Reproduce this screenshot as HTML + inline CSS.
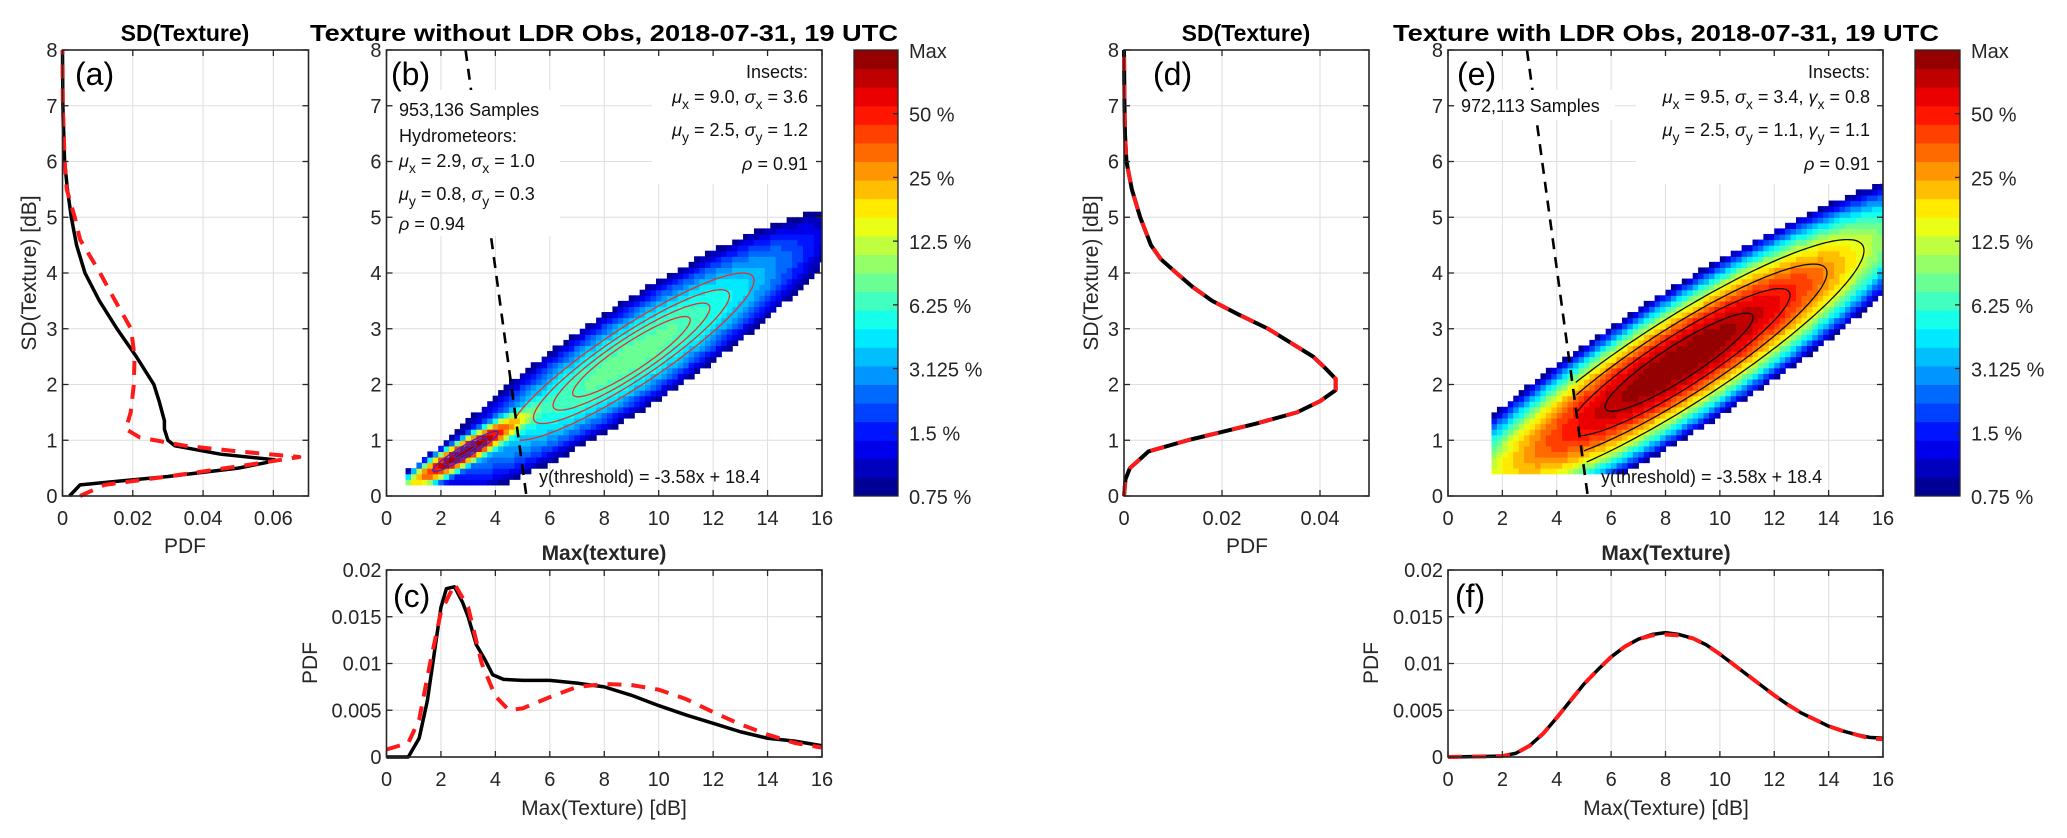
<!DOCTYPE html>
<html><head><meta charset="utf-8"><style>
html,body{margin:0;padding:0;background:#fff;}
svg{display:block;font-family:"Liberation Sans",Arial,sans-serif;}
.tk{font-size:20px;fill:#262626;}
.an{font-size:18px;fill:#111;}
.ttl{font-size:23px;font-weight:bold;fill:#000;}
.lab{font-size:21px;fill:#262626;}
.pl{font-size:32px;fill:#000;}
</style></head><body>
<svg id="fig" width="2067" height="838" viewBox="0 0 2067 838" xmlns="http://www.w3.org/2000/svg">
<defs>
<clipPath id="clip-b"><rect x="386.5" y="50" width="435.5" height="446"/></clipPath>
<clipPath id="clip-e"><rect x="1448" y="50" width="435" height="446"/></clipPath>
</defs>
<g id="layer"></g>
<text class="ttl" x="185" y="41" text-anchor="middle">SD(Texture)</text>
<text class="ttl" x="604" y="41" text-anchor="middle" textLength="588" lengthAdjust="spacingAndGlyphs">Texture without LDR Obs, 2018-07-31, 19 UTC</text>
<text class="ttl" x="1246" y="41" text-anchor="middle">SD(Texture)</text>
<text class="ttl" x="1666" y="41" text-anchor="middle" textLength="546" lengthAdjust="spacingAndGlyphs">Texture with LDR Obs, 2018-07-31, 19 UTC</text>
</svg>
<script>
// ---------- data ----------
const sdLevels=[0,0.2,0.35,0.5,0.6,0.65,0.75,0.9,1.0,1.2,1.35,1.7,2.0,2.5,3.0,3.5,4.0,4.5,5.0,5.5,6.0,7.0,8.0];
const aObs=[0.002,0.005,0.03,0.05,0.058,0.0603,0.045,0.032,0.030,0.029,0.029,0.0275,0.026,0.021,0.0155,0.0105,0.0064,0.004,0.0025,0.0014,0.0006,0.0001,0];
const aFitY=[0,0.2,0.35,0.55,0.7,0.8,0.9,1.05,1.2,1.5,2.0,2.5,3.0,3.5,4.0,4.6,5.0,5.5,6.0,7.0,8.0];
const aFit=[0.005,0.012,0.03,0.052,0.0674,0.05,0.035,0.022,0.018,0.0194,0.0203,0.0205,0.0195,0.015,0.0107,0.005,0.0035,0.0012,0.0006,0.0001,0];
const maxTex=[0,0.8,1.2,1.5,1.8,2.0,2.2,2.5,2.8,3.0,3.3,3.6,3.9,4.3,5,6,7,8,9,10,11,12,13,14,15,16];
const cObs=[0,0,0.002,0.006,0.012,0.016,0.018,0.0182,0.0165,0.015,0.012,0.0105,0.0088,0.0083,0.0082,0.0082,0.0079,0.0075,0.0066,0.0055,0.0045,0.0036,0.0027,0.002,0.0017,0.0012];
const cFitX=[0,0.8,1.2,1.6,2.0,2.5,3.0,3.5,4.0,4.5,5,6,7,8,9,10,11,12,13,14,15,16];
const cFit=[0.0008,0.0015,0.004,0.01,0.0155,0.0185,0.016,0.01,0.0065,0.005,0.0052,0.0064,0.0075,0.0078,0.0077,0.0072,0.0062,0.0048,0.0035,0.0024,0.0015,0.001];
const dY=[0,0.3,0.5,0.6,0.8,1.0,1.15,1.3,1.5,1.7,1.9,2.1,2.3,2.5,2.75,3.0,3.25,3.5,3.75,4.0,4.25,4.5,5.0,5.5,6.0,6.5,7.0,8.0];
const dObs=[0,0.0003,0.0012,0.0025,0.005,0.013,0.02,0.027,0.0353,0.04,0.0432,0.0432,0.041,0.0386,0.034,0.0294,0.0235,0.018,0.014,0.0107,0.0075,0.0055,0.0033,0.0016,0.0005,0.0002,0.0001,0];
const dFit=[0,0.0003,0.0012,0.0025,0.005,0.013,0.02,0.027,0.0353,0.04,0.0432,0.0432,0.041,0.0386,0.034,0.0294,0.0235,0.018,0.014,0.0107,0.0075,0.0055,0.0033,0.0016,0.0005,0.0002,0.0001,0];
const fX=[0,2,2.5,3,3.5,4,4.5,5,5.5,6,6.5,7,7.5,8,8.5,9,9.5,10,10.5,11,11.5,12,12.5,13,13.5,14,14.5,15,15.5,16];
const fObs=[0,0.0001,0.0004,0.0012,0.0025,0.0042,0.006,0.0078,0.0093,0.0107,0.0118,0.0126,0.0131,0.0133,0.0131,0.0127,0.012,0.011,0.0099,0.0088,0.0077,0.0066,0.0056,0.0047,0.004,0.0033,0.0028,0.0024,0.0021,0.002];
const fFit=[0,0.0001,0.0004,0.0012,0.0025,0.0042,0.006,0.0078,0.0093,0.0107,0.0118,0.0126,0.013,0.0131,0.013,0.0127,0.012,0.011,0.0099,0.0088,0.0077,0.0066,0.0056,0.0047,0.004,0.0033,0.0028,0.0024,0.002,0.0019];
// bivariate components (from annotations): mux, muy, sx, sy, rho, amplitude
const bMux=[2.9,9.0], bMuy=[0.8,2.5], bSx=[1.0,3.6], bSy=[0.3,1.2], bRho=[0.94,0.91], bAmp=[1,0.08];
const eMux=[8.5], eMuy=[2.4], eSx=[3.4], eSy=[1.1], eRho=[0.91], eAmp=[1];
const threshold=[-3.58,18.4];
const cbLabels=['Max','50 %','25 %','12.5 %','6.25 %','3.125 %','1.5 %','0.75 %'];
const bContR=[0.6,0.8,1.0,1.25], hContR=[0.4,0.8,1.2], eContR=[0.8,1.2,1.6,2.0];
const sdTicks=[0,1,2,3,4,5,6,7,8], texTicks=[0,2,4,6,8,10,12,14,16];
const pdfTicksA=[0,0.02,0.04,0.06], pdfTicksD=[0,0.02,0.04], pdfTicksC=[0,0.005,0.01,0.015,0.02];
const pdfLabA=['0','0.02','0.04','0.06'], pdfLabD=['0','0.02','0.04'], pdfLabC=['0','0.005','0.01','0.015','0.02'];

// ---------- helpers ----------
const NS='http://www.w3.org/2000/svg';
const layer=document.getElementById('layer');
function mk(tag,attrs,parent){const e=document.createElementNS(NS,tag);for(const k in attrs)e.setAttribute(k,attrs[k]);(parent||layer).appendChild(e);return e;}
function scale(d0,d1,p0,p1){return v=>p0+(v-d0)/(d1-d0)*(p1-p0);}
function jet(t){const c=v=>Math.round(255*Math.max(0,Math.min(1,v)));return 'rgb('+c(1.5-Math.abs(4*t-3))+','+c(1.5-Math.abs(4*t-2))+','+c(1.5-Math.abs(4*t-1))+')';}

function panel(name,px0,px1,py0,py1,xmin,xmax,ymin,ymax,xt,xl,yt,yl){
  const sx=scale(xmin,xmax,px0,px1), sy=scale(ymin,ymax,py0,py1);
  const g=mk('g',{});
  
  
  xt.forEach(v=>{mk('line',{x1:sx(v),x2:sx(v),y1:py0,y2:py1,stroke:'#dedede','stroke-width':1},g);});
  yt.forEach(v=>{mk('line',{x1:px0,x2:px1,y1:sy(v),y2:sy(v),stroke:'#dedede','stroke-width':1},g);});
  return {sx,sy,px0,px1,py0,py1,xt,xl,yt,yl,name};
}
function frame(p){
  const g=mk('g',{});
  
  
  p.xt.forEach((v,i)=>{
    mk('line',{x1:p.sx(v),x2:p.sx(v),y1:p.py0,y2:p.py0-6,stroke:'#262626','stroke-width':1.3},g);
    mk('line',{x1:p.sx(v),x2:p.sx(v),y1:p.py1,y2:p.py1+6,stroke:'#262626','stroke-width':1.3},g);
    const t=mk('text',{x:p.sx(v),y:p.py0+29,'text-anchor':'middle','class':'tk'},g);
    
    
    t.textContent=p.xl[i];
  });
  p.yt.forEach((v,i)=>{
    mk('line',{x1:p.px0,x2:p.px0+6,y1:p.sy(v),y2:p.sy(v),stroke:'#262626','stroke-width':1.3},g);
    mk('line',{x1:p.px1,x2:p.px1-6,y1:p.sy(v),y2:p.sy(v),stroke:'#262626','stroke-width':1.3},g);
    const t=mk('text',{x:p.px0-5,y:p.sy(v)+7,'text-anchor':'end','class':'tk'},g);
    
    
    t.textContent=p.yl[i];
  });
  mk('rect',{x:p.px0,y:p.py1,width:p.px1-p.px0,height:p.py0-p.py1,fill:'none',stroke:'#262626','stroke-width':1.6},g);
}
function curve(p,xs,ys,color,dash,w,nm,swap){
  const pts=xs.map((x,i)=>swap?(p.sx(ys[i])+','+p.sy(x)):(p.sx(x)+','+p.sy(ys[i]))).join(' ');
  const l=mk('polyline',{points:pts,fill:'none',stroke:color,'stroke-width':w,'stroke-linejoin':'round'});
  if(dash)l.setAttribute('stroke-dasharray',dash);
  
  
}
function txt(x,y,s,cls,anchor,nm,extra){
  const t=mk('text',Object.assign({x:x,y:y,'class':cls,'text-anchor':anchor||'start'},extra||{}));
  
  
  t.innerHTML=s;return t;
}
function density(x,y,mx,my,sx,sy,rh,am){
  let d=0;for(let k=0;k<mx.length;k++){const u=(x-mx[k])/sx[k],v=(y-my[k])/sy[k];
    d+=am[k]*Math.exp(-0.5*(u*u+v*v-2*rh[k]*u*v)/(1-rh[k]*rh[k]));}return d;}
function heatmap(p,mx,my,sx,sy,rh,am,xlo,ylo,nm,clip){
  const g=mk('g',{'clip-path':'url(#'+clip+')'});
  
  
  let mxd=0;
  for(let x=xlo;x<16;x+=0.2)for(let y=ylo;y<8;y+=0.1){mxd=Math.max(mxd,density(x+0.1,y+0.05,mx,my,sx,sy,rh,am));}
  for(let x=xlo;x<16;x+=0.2)for(let y=ylo;y<8;y+=0.1){
    const r=density(x+0.1,y+0.05,mx,my,sx,sy,rh,am)/mxd;
    if(r<1/128)continue;
    let t=1+Math.log2(r)/7;let q=Math.min(23,Math.floor(t*24));
    const c=mk('rect',{x:p.sx(x),y:p.sy(y+0.1),width:p.sx(0.2)-p.sx(0)+0.6,height:p.sy(0)-p.sy(0.1)+0.6,fill:jet((q+0.5)/24)},g);
    
    
  }
}
function ellipse(p,mx,my,sx,sy,rh,r,color,nm,clip,cut){
  const pts=[];
  for(let i=0;i<=180;i++){const a=i/180*2*Math.PI;
    const x=mx+r*sx*Math.cos(a), y=my+r*sy*(rh*Math.cos(a)+Math.sqrt(1-rh*rh)*Math.sin(a));
    if(cut && x<(y-threshold[1])/threshold[0]){pts.push(null);continue;}
    pts.push([p.sx(x),p.sy(y)]);}
  let d='',pen=false;
  pts.forEach(q=>{if(!q){pen=false;return;}d+=(pen?'L':'M')+q[0].toFixed(1)+','+q[1].toFixed(1);pen=true;});
  const e=mk('path',{d:d,fill:'none',stroke:color,'stroke-width':1.3,'clip-path':'url(#'+clip+')'});
  
  
}
function threshLine(p,nm,clip){
  const l=mk('line',{x1:p.sx((8-threshold[1])/threshold[0]),y1:p.sy(8),x2:p.sx((0-threshold[1])/threshold[0]),y2:p.sy(0),stroke:'#000','stroke-width':2.6,'stroke-dasharray':'11,8','clip-path':'url(#'+clip+')'});
  
  
}
function whiteBox(x,y,w,h,nm){const r=mk('rect',{x:x,y:y,width:w,height:h,fill:'#fff'});
  
  }
function colorbar(x0,x1,y0,y1,nm){
  const g=mk('g',{});
  
  
  const h=(y1-y0)/24;
  for(let i=0;i<24;i++){const r=mk('rect',{x:x0,y:y1-(i+1)*h,width:x1-x0,height:h+0.5,fill:jet((i+0.5)/24)},g);
    
    }
  mk('rect',{x:x0,y:y0,width:x1-x0,height:y1-y0,fill:'none',stroke:'#262626','stroke-width':1.3},g);
  cbLabels.forEach((s,i)=>{const y=y0+i*(y1-y0)/7;
    if(i>0&&i<7)mk('line',{x1:x1-5,x2:x1,y1:y,y2:y,stroke:'#262626','stroke-width':1.3},g);
    const t=mk('text',{x:x1+11,y:y+8,'class':'tk'},g);
    
    
    t.textContent=s;});
}
const sdL=sdTicks.map(String), texL=texTicks.map(String);

// ---------- panel a ----------
const A=panel('panel-a',62.5,308.5,496,50,0,0.07,0,8,pdfTicksA,pdfLabA,sdTicks,sdL);
curve(A,sdLevels,aObs,'#000',null,3.5,'a-observed-pdf',true);
curve(A,aFitY,aFit,'#ff1a1a','14,10',4,'a-fitted-pdf',true);
frame(A);
// ---------- panel b ----------
const B=panel('panel-b',386.5,822,496,50,0,16,0,8,texTicks,texL,sdTicks,sdL);
heatmap(B,bMux,bMuy,bSx,bSy,bRho,bAmp,0.7,0.2,'b-heatmap','clip-b');
bContR.forEach(r=>ellipse(B,bMux[1],bMuy[1],bSx[1],bSy[1],bRho[1],r,'#e8302a','b-insect-contour','clip-b',true));
hContR.forEach(r=>ellipse(B,bMux[0],bMuy[0],bSx[0],bSy[0],bRho[0],r,'#3a2ad0','b-hydro-contour','clip-b',false));
threshLine(B,'b-threshold-line','clip-b');
whiteBox(392,90,168,146,'b-left-textbox');
whiteBox(652,52,168,132,'b-right-textbox');
frame(B);
colorbar(854,898,50,496,'colorbar-b');
// ---------- panel c ----------
const C=panel('panel-c',386.5,822,757,570,0,16,0,0.02,texTicks,texL,pdfTicksC,pdfLabC);
curve(C,maxTex,cObs,'#000',null,3.5,'c-observed-pdf',false);
curve(C,cFitX,cFit,'#ff1a1a','14,10',4,'c-fitted-pdf',false);
frame(C);
// ---------- panel d ----------
const D=panel('panel-d',1124,1369,496,50,0,0.05,0,8,pdfTicksD,pdfLabD,sdTicks,sdL);
curve(D,dY,dObs,'#000',null,4,'d-observed-pdf',true);
curve(D,dY,dFit,'#ff1a1a','14,14',4,'d-fitted-pdf',true);
frame(D);
// ---------- panel e ----------
const E=panel('panel-e',1448,1883,496,50,0,16,0,8,texTicks,texL,sdTicks,sdL);
heatmap(E,eMux,eMuy,eSx,eSy,eRho,eAmp,1.6,0.4,'e-heatmap','clip-e');
eContR.forEach(r=>ellipse(E,eMux[0],eMuy[0],eSx[0],eSy[0],eRho[0],r,'#111','e-contour','clip-e',true));
threshLine(E,'e-threshold-line','clip-e');
whiteBox(1455,90,160,30,'e-left-textbox');
whiteBox(1636,52,244,132,'e-right-textbox');
frame(E);
colorbar(1915,1960,50,496,'colorbar-e');
// ---------- panel f ----------
const F=panel('panel-f',1448,1883,757,570,0,16,0,0.02,texTicks,texL,pdfTicksC,pdfLabC);
curve(F,fX,fObs,'#000',null,3.5,'f-observed-pdf',false);
curve(F,fX,fFit,'#ff1a1a','14,10',4,'f-fitted-pdf',false);
frame(F);

// ---------- text ----------
const sub=s=>'<tspan dy="6" font-size="14">'+s+'</tspan><tspan dy="-6">';
const mu='<tspan font-style="italic">μ</tspan>', sg='<tspan font-style="italic">σ</tspan>', gm='<tspan font-style="italic">γ</tspan>', rh='<tspan font-style="italic">ρ</tspan>';
txt(75,85,'(a)','pl','start','label-a');
txt(391,85,'(b)','pl','start','label-b');
txt(393,607,'(c)','pl','start','label-c');
txt(1153,85,'(d)','pl','start','label-d');
txt(1457,85,'(e)','pl','start','label-e');
txt(1455,607,'(f)','pl','start','label-f');
txt(399,116,'953,136 Samples','an','start','b-sample-count');
txt(399,142,'Hydrometeors:','an','start','b-hydro-heading');
txt(399,167,mu+sub('x')+' = 2.9, '+sg+sub('x')+' = 1.0</tspan></tspan>','an','start','b-hydro-x');
txt(399,200,mu+sub('y')+' = 0.8, '+sg+sub('y')+' = 0.3</tspan></tspan>','an','start','b-hydro-y');
txt(399,230,rh+' = 0.94','an','start','b-hydro-rho');
txt(808,78,'Insects:','an','end','b-insect-heading');
txt(808,103,mu+sub('x')+' = 9.0, '+sg+sub('x')+' = 3.6</tspan></tspan>','an','end','b-insect-x');
txt(808,136,mu+sub('y')+' = 2.5, '+sg+sub('y')+' = 1.2</tspan></tspan>','an','end','b-insect-y');
txt(808,170,rh+' = 0.91','an','end','b-insect-rho');
txt(539,483,'y(threshold) = -3.58x + 18.4','an','start','b-threshold-label');
txt(1461,112,'972,113 Samples','an','start','e-sample-count');
txt(1870,78,'Insects:','an','end','e-insect-heading');
txt(1870,103,mu+sub('x')+' = 9.5, '+sg+sub('x')+' = 3.4, '+gm+sub('x')+' = 0.8</tspan></tspan></tspan>','an','end','e-insect-x');
txt(1870,136,mu+sub('y')+' = 2.5, '+sg+sub('y')+' = 1.1, '+gm+sub('y')+' = 1.1</tspan></tspan></tspan>','an','end','e-insect-y');
txt(1870,170,rh+' = 0.91','an','end','e-insect-rho');
txt(1601,483,'y(threshold) = -3.58x + 18.4','an','start','e-threshold-label');
txt(185,553,'PDF','lab','middle','a-x-axis-title');
txt(1247,553,'PDF','lab','middle','d-x-axis-title');
txt(604,560,'Max(texture)','lab','middle','b-x-axis-title',{'font-weight':'bold','fill':'#000'});
txt(1666,560,'Max(Texture)','lab','middle','e-x-axis-title',{'font-weight':'bold','fill':'#000'});
txt(604,815,'Max(Texture) [dB]','lab','middle','c-x-axis-title');
txt(1666,815,'Max(Texture) [dB]','lab','middle','f-x-axis-title');
txt(0,0,'SD(Texture) [dB]','lab','middle','a-y-axis-title',{transform:'translate(36,273) rotate(-90)'});
txt(0,0,'SD(Texture) [dB]','lab','middle','d-y-axis-title',{transform:'translate(1098,273) rotate(-90)'});
txt(0,0,'PDF','lab','middle','c-y-axis-title',{transform:'translate(317,663) rotate(-90)'});
txt(0,0,'PDF','lab','middle','f-y-axis-title',{transform:'translate(1378,663) rotate(-90)'});
</script>
</body></html>
